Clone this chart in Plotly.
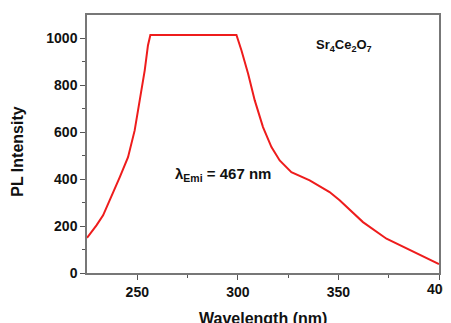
import plotly.graph_objects as go

wavelength = [225, 229.7, 233.0, 237.1, 241.3, 245.4, 248.7, 251.2, 253.7, 255.3,
              256.5, 299.3, 301.8, 305.1, 308.4, 312.5, 316.7,
              320.8, 326.6, 335.7, 340.7, 345.6, 350.6, 354.0, 362.2, 373.9, 383.8,
              392.1, 400]
intensity = [150, 203, 246, 324, 409, 494, 608, 736, 864, 970,
             1015, 1015, 949, 850, 736, 622, 537,
             480, 430, 395, 370, 345, 310, 283, 217, 146, 104,
             68, 38]

x_ticks = [250, 300, 350, 400]
x_ticktext = ["250", "300", "350", ""]
y_ticks = [0, 200, 400, 600, 800, 1000]
x_minor = [275, 325, 375]
y_minor = [100, 300, 500, 700, 900]

fig = go.Figure()
fig.add_trace(go.Scatter(x=wavelength, y=intensity, mode="lines",
                         line=dict(color="#ee1c1c", width=2), showlegend=False))

font = "Arial, Liberation Sans, sans-serif"
tickfont = dict(size=14, family=font, weight="bold", color="#111111")
axis_common = dict(ticks="outside", ticklen=5, tickwidth=1.3, tickcolor="#555555",
                   showline=True, linecolor="#777777", linewidth=1.5, mirror=True,
                   showgrid=False, zeroline=False, automargin=False,
                   ticklabeloverflow="allow", tickfont=tickfont)
# page body has an 8px default margin, so the figure is sized to compensate
fig.update_layout(
    width=443, height=315,
    margin=dict(l=79, r=12, t=7, b=50),
    plot_bgcolor="white", paper_bgcolor="white",
    font=dict(family=font, color="#111111"),
    xaxis=dict(range=[225, 400], tickvals=x_ticks, ticktext=x_ticktext,
               minor=dict(tickvals=x_minor, ticks="outside", ticklen=3, tickcolor="#555555"),
               **axis_common),
    yaxis=dict(range=[0, 1100], tickvals=y_ticks,
               minor=dict(tickvals=y_minor, ticks="outside", ticklen=3, tickcolor="#555555"),
               **axis_common),
)

# last x tick label drawn as annotation so it is not clipped at the edge
fig.add_annotation(x=x_ticks[-1], y=0, xref="x", yref="paper", showarrow=False,
                   xanchor="center", yanchor="top", yshift=-6,
                   text="<b>400</b>", font=tickfont)
fig.add_annotation(x=0.5, y=-0.175, xref="paper", yref="paper", showarrow=False,
                   xanchor="center", yanchor="middle",
                   text="<b>Wavelength (nm)</b>",
                   font=dict(size=16, family=font, color="#111111"))
fig.add_annotation(x=-0.196, y=0.47, xref="paper", yref="paper", showarrow=False,
                   xanchor="center", yanchor="middle", textangle=-90,
                   text="<b>PL Intensity</b>",
                   font=dict(size=16, family=font, color="#111111"))
fig.add_annotation(x=353, y=970, xref="x", yref="y", showarrow=False,
                   text="<b>Sr<sub>4</sub>Ce<sub>2</sub>O<sub>7</sub></b>",
                   font=dict(size=13, family=font, color="#111111"))
fig.add_annotation(x=292.6, y=420, xref="x", yref="y", showarrow=False,
                   text="<b>λ<sub>Emi</sub> = 467 nm</b>",
                   font=dict(size=15, family=font, color="#111111"))

fig.write_html("out.html")
